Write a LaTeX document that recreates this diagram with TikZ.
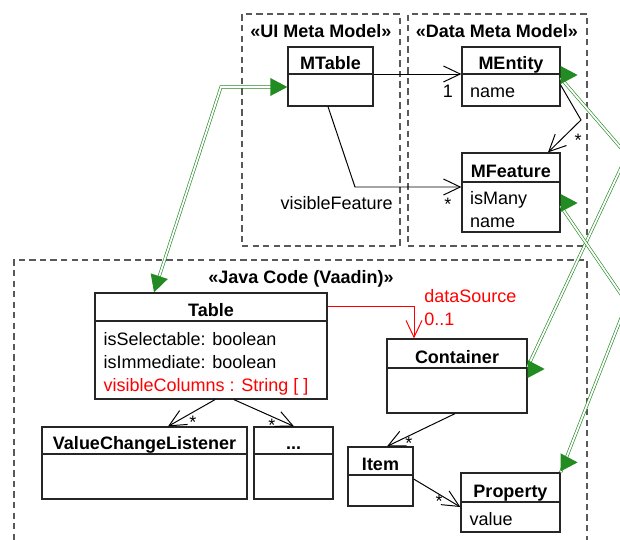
\documentclass[tikz,border=0pt]{standalone}
\usepackage{fontspec}
\setmainfont{Liberation Sans}
\usetikzlibrary{arrows.meta, calc, fit, positioning}

\definecolor{mapgreen}{RGB}{34,139,34}
\newcommand{\dfont}{\fontsize{12.8}{15.6}\selectfont}

% class box: name, corners, divider y, title
\newcommand{\umlclass}[4]{%
  \node[classbox, fit={#2}] (#1) {};
  \draw[classline] (#1.west |- 0,#3) coordinate (#1-dw) -- (#1.east |- 0,#3) coordinate (#1-de);
  \node[classname] (#1-name) at ($(#1.north |- 0,#3)+(0,-4.5)$) {#4};
}
% filled green head: tip, angle
\newcommand{\maptip}[2]{%
  \fill[mapgreen, shift={#1}, rotate=#2] (0,0) -- (-17,-9) -- (-17,9) -- cycle;
}

\begin{document}
\begin{tikzpicture}[x=0.025cm, y=-0.025cm,
    pkgbox/.style={draw=black!65, dash pattern=on 4.5pt off 3pt, line width=0.8pt, inner sep=0},
    pkgtitle/.style={font=\dfont\bfseries, anchor=base, inner sep=0},
    classbox/.style={draw=black!85, line width=0.9pt, inner sep=0},
    classline/.style={draw=black!85, line width=0.9pt},
    classname/.style={font=\dfont\bfseries, anchor=base, inner sep=0},
    attr/.style={font=\dfont, anchor=base west, inner sep=0},
    mult/.style={font=\dfont, anchor=base, inner sep=0},
    assoc/.style={draw=black, line width=0.7pt, -{Straight Barb[length=0.42cm, width=0.4cm]}},
    mapline/.style={draw=mapgreen, line width=0.45pt, double=white, double distance=1.3pt}]
    \useasboundingbox (0,0) rectangle (620,540);

    % packages
    \node[pkgbox, fit={(242,14) (400,246)}] (uipkg) {};
    \node[pkgbox, fit={(408,14) (587,246)}] (datapkg) {};
    \node[pkgbox, fit={(14,260) (587,570)}] (javapkg) {};
    \node[pkgtitle] (uititle) at (321,37) {«UI Meta Model»};
    \node[pkgtitle] (datatitle) at (497,37) {«Data Meta Model»};
    \node[pkgtitle] (javatitle) at (301,283) {«Java Code (Vaadin)»};

    % meta model
    \umlclass{mt}{(288,47) (373,106)}{74}{MTable}
    \umlclass{me}{(462,47) (560,106)}{74}{MEntity}
    \node[attr] (me-a1) at ($(me-dw)+(8.5,23.5)$) {name};
    \umlclass{mf}{(462,153) (560,232)}{182}{MFeature}
    \node[attr] (mf-a1) at ($(mf-dw)+(8.5,22.5)$) {isMany};
    \node[attr] (mf-a2) at ($(mf-dw)+(8.5,45)$) {name};

    % vaadin
    \umlclass{tab}{(95,293) (327,399)}{321}{Table}
    \node[attr] (tab-a1) at ($(tab-dw)+(9,24)$) {isSelectable: boolean};
    \node[attr] (tab-a2) at ($(tab-dw)+(9,47)$) {isImmediate: boolean};
    \node[attr, red] (tab-a3) at ($(tab-dw)+(9,70)$) {visibleColumns : String [ ]};
    \umlclass{cont}{(387,339) (527,413)}{368}{Container}
    \umlclass{vcl}{(42,427) (247,499)}{454}{ValueChangeListener}
    \umlclass{dots}{(254,427) (333,499)}{454}{...}
    \umlclass{item}{(348,447) (413,506)}{475}{Item}
    \umlclass{prop}{(461,473) (560,532)}{502}{Property}
    \node[attr] (prop-a1) at ($(prop-dw)+(9,23)$) {value};

    % associations
    \draw[assoc] (mt-de) -- (me-dw);
    \node[mult] (m-one) at (448,97) {1};
    \draw[assoc] (mt.south -| 328,0) -- (355,187) -- (mf.west |- 0,187);
    \node[mult, anchor=base east] (vfeat) at (393,209.5) {visibleFeature};
    \node[mult] (m-vf) at (448,210) {*};
    \draw[assoc] (me.east |- 0,85) -- (581,120) -- (mf.north -| 548,0);
    \node[mult] (m-feat) at (578,146) {*};
    \draw[assoc, red] (tab.east |- 0,306) -| (cont.north -| 414,0);
    \node[mult, anchor=base west, red] (dsrc) at (424,302.7) {dataSource};
    \node[mult, anchor=base west, red] (dsrc-m) at (424,325.7) {0..1};
    \draw[assoc] (tab.south -| 215,0) -- (vcl.north -| 168,0);
    \node[mult] (m-vcl) at (193,428) {*};
    \draw[assoc] (tab.south -| 234,0) -- (dots.north -| 294,0);
    \node[mult] (m-dots) at (272,431) {*};
    \draw[assoc] (cont.south -| 455,0) -- (item.north -| 387,0);
    \node[mult] (m-item) at (409,449) {*};
    \draw[assoc] (item.east |- 0,479) -- (prop.west |- 0,507);
    \node[mult] (m-prop) at (439,507) {*};

    % mappings
    \coordinate (bendui) at (221,87);
    \coordinate (benda) at (627,155);
    \coordinate (bendb) at (627,303);
    \draw[mapline, shorten <=0.2cm, shorten >=0.2cm] (mt.west |- 0,87) -- (bendui) -- (tab.north -| 154,0);
    \draw[mapline] (me.east |- 0,78) -- (benda) -- (cont.east |- 0,367);
    \draw[mapline] (mf.east |- 0,206) -- (bendb) -- (prop.north east);
    \maptip{(mt.west |- 0,87)}{0}
    \maptip{(tab.north -| 154,0)}{-108}
    \maptip{($(me.east |- 0,75)+(17,0)$)}{0}
    \maptip{($(mf.east |- 0,203)+(17,0)$)}{0}
    \maptip{($(cont.east |- 0,369)+(17,0)$)}{0}
    \maptip{($(prop.north east)+(17,-10)$)}{0}
\end{tikzpicture}
\end{document}
